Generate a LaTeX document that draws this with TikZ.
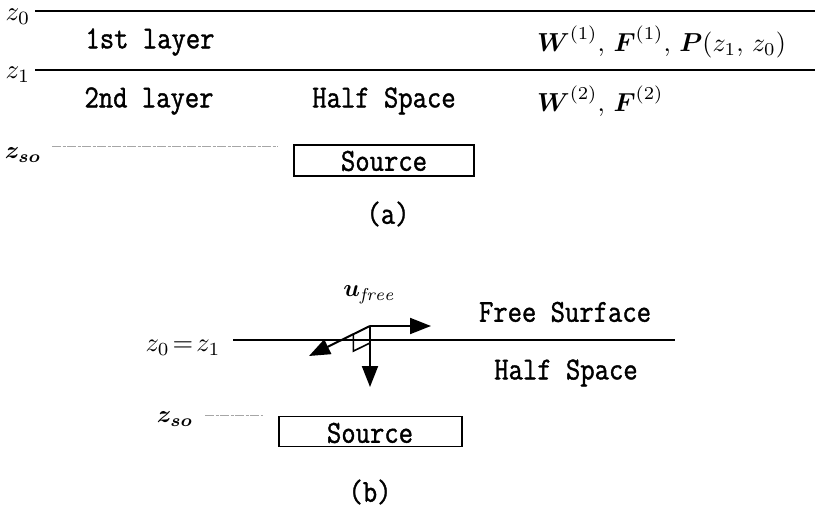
\documentclass[tikz,border=0pt]{standalone}
\usepackage{amsmath}
\usepackage{fontspec}
\usetikzlibrary{arrows.meta}
\newfontfamily\labelmono[FakeStretch=0.87,FakeBold=1.2]{Latin Modern Mono}
\newcommand{\bigmath}[2]{\scalebox{#1}{$#2$}}
\begin{document}
\begin{tikzpicture}[x=1pt,y=-1pt,
  layer/.style={line width=2pt},
  depthmark/.style={draw=gray!70,line width=0.9pt,dash pattern=on 9pt off 1.5pt on 3pt off 1.5pt},
  txt/.style={font=\fontsize{32}{36}\labelmono\selectfont,inner sep=0pt},
  mth/.style={inner sep=0pt},
  srcbox/.style={draw,line width=1.8pt,inner sep=0pt},
  vec/.style={line width=2pt,-{Triangle[length=21pt,width=16pt]}}]
\useasboundingbox (0,0) rectangle (815,511);

% ---------- (a) layered half space ----------
\coordinate (a0l) at (35,11);  \coordinate (a0r) at (815,11);
\coordinate (a1l) at (35,70);  \coordinate (a1r) at (815,70);
\draw[layer] (a0l) -- (a0r);
\draw[layer] (a1l) -- (a1r);
\node[mth] (za0) at (18,16.5) {\bigmath{2.7}{z_0}};
\node[mth] (za1) at (18,75) {\bigmath{2.7}{z_1}};
\node[txt] (lay1) at (150,42) {1st layer};
\node[txt] (lay2) at (149,101) {2nd layer};
\node[txt] (hsa) at (384,101) {Half Space};
\node[mth,anchor=west] (wf1) at (537,42) {\bigmath{2.6}{\boldsymbol{W}^{(1)},\,\boldsymbol{F}^{(1)},\,\boldsymbol{P}(z_1,\,z_0)}};
\node[mth,anchor=west] (wf2) at (537,101) {\bigmath{2.6}{\boldsymbol{W}^{(2)},\,\boldsymbol{F}^{(2)}}};
\node[mth] (zsa) at (23,155) {\bigmath{2.45}{\boldsymbol{z_{so}}}};
\coordinate (dal) at (52,146); \coordinate (dar) at (278,146);
\draw[depthmark] (dal) -- (dar);
\node[srcbox,minimum width=180pt,minimum height=31pt] (srca) at (384,160.5) {};
\node[txt] (srcta) at (384,161) {Source};
\node[txt] (capa) at (388,214) {(a)};

% ---------- (b) homogeneous half space ----------
\coordinate (bl) at (233,340); \coordinate (br) at (675,340);
\draw[layer] (bl) -- (br);
\node[mth] (zb) at (183,348) {\bigmath{2.65}{z_0\!=\!z_1}};
\node[txt] (fs) at (565,312) {Free Surface};
\node[txt] (hsb) at (566,373) {Half Space};
\node[mth] (ufree) at (369,295) {\bigmath{2.45}{\boldsymbol{u}_{\mathit{free}}}};
\coordinate (o) at (370,326);
\coordinate (th) at (431,326);
\coordinate (tv) at (370,387);
\coordinate (td) at (309,356);
\draw[vec] (o) -- (th);
\draw[vec] (o) -- (tv);
\draw[vec] (o) -- (td);
\coordinate (m1) at (353.4,334.1);
\coordinate (m2) at (370,343);
\draw[line width=1.6pt] (m1) -- ++(0,17) -- (m2);
\node[mth] (zsb) at (175,419) {\bigmath{2.45}{\boldsymbol{z_{so}}}};
\coordinate (dbl) at (205,415); \coordinate (dbr) at (263,415);
\draw[depthmark] (dbl) -- (dbr);
\node[srcbox,minimum width=183pt,minimum height=30pt] (srcb) at (370.5,431.5) {};
\node[txt] (srctb) at (370,433) {Source};
\node[txt] (capb) at (370,492) {(b)};
\end{tikzpicture}
\end{document}
